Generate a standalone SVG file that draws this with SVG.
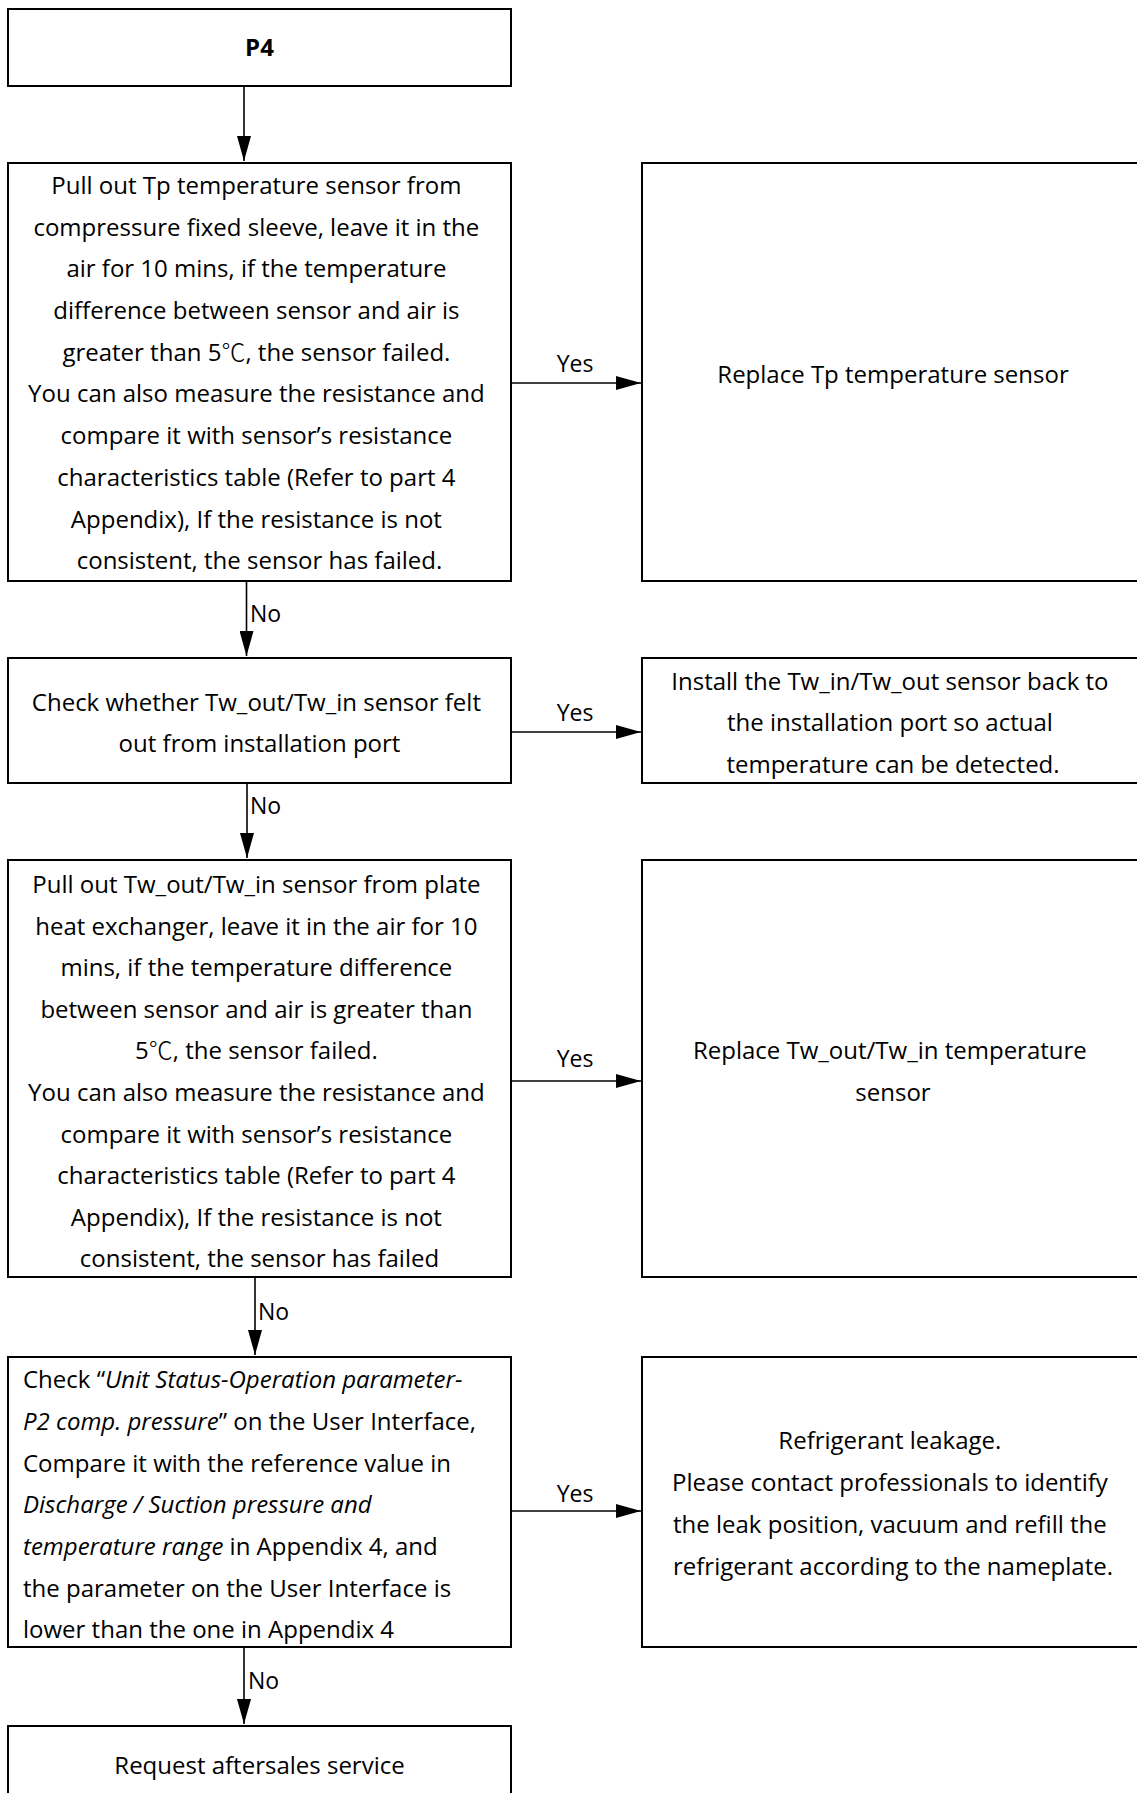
<svg xmlns="http://www.w3.org/2000/svg" width="1137" height="1793" viewBox="0 0 1137 1793">
<style>
.box{fill:#fff;stroke:#000;stroke-width:2}
.t{font-family:"Open Sans","Noto Sans CJK SC",sans-serif;font-size:24px;fill:#000}
.c{text-anchor:middle}
.lbl{font-family:"Open Sans",sans-serif;font-size:23px;fill:#000}
.ln{stroke:#000;stroke-width:1.6;fill:none}
.i{font-style:italic}
.cj{font-family:"Noto Sans CJK SC",sans-serif;font-weight:300}
</style>
<defs>
<marker id="ah" markerWidth="25" markerHeight="14" refX="25" refY="7" orient="auto" markerUnits="userSpaceOnUse">
<path d="M0,0 L25,7 L0,14 Z" fill="#000"/>
</marker>
</defs>
<rect width="1137" height="1793" fill="#fff"/>

<g id="n-p4">
<rect class="box" x="8" y="9" width="503" height="77"/>
<text class="t c" x="259.5" y="56" font-weight="bold">P4</text>
</g>

<g id="n-tp-check">
<rect class="box" x="8" y="163" width="503" height="418"/>
<text class="t c">
<tspan x="259.5" y="194">Pull out Tp temperature sensor from</tspan>
<tspan x="259.5" y="236">compressure fixed sleeve, leave it in the</tspan>
<tspan x="259.5" y="277">air for 10 mins, if the temperature</tspan>
<tspan x="259.5" y="319">difference between sensor and air is</tspan>
<tspan x="259.5" y="361">greater than 5<tspan class="cj">℃</tspan>, the sensor failed.</tspan>
<tspan x="259.5" y="402">You can also measure the resistance and</tspan>
<tspan x="259.5" y="444">compare it with sensor’s resistance</tspan>
<tspan x="259.5" y="486">characteristics table (Refer to part 4</tspan>
<tspan x="259.5" y="528">Appendix), If the resistance is not</tspan>
<tspan x="259.5" y="569">consistent, the sensor has failed.</tspan>
</text>
</g>

<g id="n-tp-replace">
<rect class="box" x="642" y="163" width="502" height="418"/>
<text class="t c" x="893" y="383">Replace Tp temperature sensor</text>
</g>

<g id="n-tw-port">
<rect class="box" x="8" y="658" width="503" height="125"/>
<text class="t c">
<tspan x="259.5" y="711">Check whether Tw_out/Tw_in sensor felt</tspan>
<tspan x="259.5" y="752">out from installation port</tspan>
</text>
</g>

<g id="n-tw-install">
<rect class="box" x="642" y="658" width="502" height="125"/>
<text class="t c">
<tspan x="893" y="690">Install the Tw_in/Tw_out sensor back to</tspan>
<tspan x="893" y="731">the installation port so actual</tspan>
<tspan x="893" y="773">temperature can be detected.</tspan>
</text>
</g>

<g id="n-tw-check">
<rect class="box" x="8" y="860" width="503" height="417"/>
<text class="t c">
<tspan x="259.5" y="893">Pull out Tw_out/Tw_in sensor from plate</tspan>
<tspan x="259.5" y="935">heat exchanger, leave it in the air for 10</tspan>
<tspan x="259.5" y="976">mins, if the temperature difference</tspan>
<tspan x="259.5" y="1018">between sensor and air is greater than</tspan>
<tspan x="259.5" y="1059">5<tspan class="cj">℃</tspan>, the sensor failed.</tspan>
<tspan x="259.5" y="1101">You can also measure the resistance and</tspan>
<tspan x="259.5" y="1143">compare it with sensor’s resistance</tspan>
<tspan x="259.5" y="1184">characteristics table (Refer to part 4</tspan>
<tspan x="259.5" y="1226">Appendix), If the resistance is not</tspan>
<tspan x="259.5" y="1267">consistent, the sensor has failed</tspan>
</text>
</g>

<g id="n-tw-replace">
<rect class="box" x="642" y="860" width="502" height="417"/>
<text class="t c">
<tspan x="893" y="1059">Replace Tw_out/Tw_in temperature</tspan>
<tspan x="893" y="1101">sensor</tspan>
</text>
</g>

<g id="n-pressure">
<rect class="box" x="8" y="1357" width="503" height="290"/>
<text class="t">
<tspan x="23" y="1388">Check “<tspan class="i">Unit Status-Operation parameter-</tspan></tspan>
<tspan x="23" y="1430"><tspan class="i">P2 comp. pressure</tspan>” on the User Interface,</tspan>
<tspan x="23" y="1472">Compare it with the reference value in</tspan>
<tspan x="23" y="1513" class="i">Discharge / Suction pressure and</tspan>
<tspan x="23" y="1555"><tspan class="i">temperature range</tspan> in Appendix 4, and</tspan>
<tspan x="23" y="1597">the parameter on the User Interface is</tspan>
<tspan x="23" y="1638">lower than the one in Appendix 4</tspan>
</text>
</g>

<g id="n-leak">
<rect class="box" x="642" y="1357" width="502" height="290"/>
<text class="t c">
<tspan x="893" y="1449">Refrigerant leakage.</tspan>
<tspan x="893" y="1491">Please contact professionals to identify</tspan>
<tspan x="893" y="1533">the leak position, vacuum and refill the</tspan>
<tspan x="893" y="1575">refrigerant according to the nameplate.</tspan>
</text>
</g>

<g id="n-service">
<rect class="box" x="8" y="1726" width="503" height="90"/>
<text class="t c" x="259.5" y="1774">Request aftersales service</text>
</g>

<g id="connectors">
<line class="ln" x1="244" y1="86" x2="244" y2="161" marker-end="url(#ah)"/>
<line class="ln" x1="511" y1="383" x2="641" y2="383" marker-end="url(#ah)"/>
<text class="lbl c" x="575" y="372">Yes</text>
<line class="ln" x1="246.5" y1="581" x2="246.5" y2="656" marker-end="url(#ah)"/>
<text class="lbl" x="250" y="622">No</text>
<line class="ln" x1="511" y1="732" x2="641" y2="732" marker-end="url(#ah)"/>
<text class="lbl c" x="575" y="721">Yes</text>
<line class="ln" x1="247" y1="783" x2="247" y2="858" marker-end="url(#ah)"/>
<text class="lbl" x="250" y="814">No</text>
<line class="ln" x1="511" y1="1081" x2="641" y2="1081" marker-end="url(#ah)"/>
<text class="lbl c" x="575" y="1067">Yes</text>
<line class="ln" x1="255" y1="1277" x2="255" y2="1355" marker-end="url(#ah)"/>
<text class="lbl" x="258" y="1320">No</text>
<line class="ln" x1="511" y1="1511" x2="641" y2="1511" marker-end="url(#ah)"/>
<text class="lbl c" x="575" y="1502">Yes</text>
<line class="ln" x1="244" y1="1647" x2="244" y2="1724" marker-end="url(#ah)"/>
<text class="lbl" x="248" y="1689">No</text>
</g>
</svg>
